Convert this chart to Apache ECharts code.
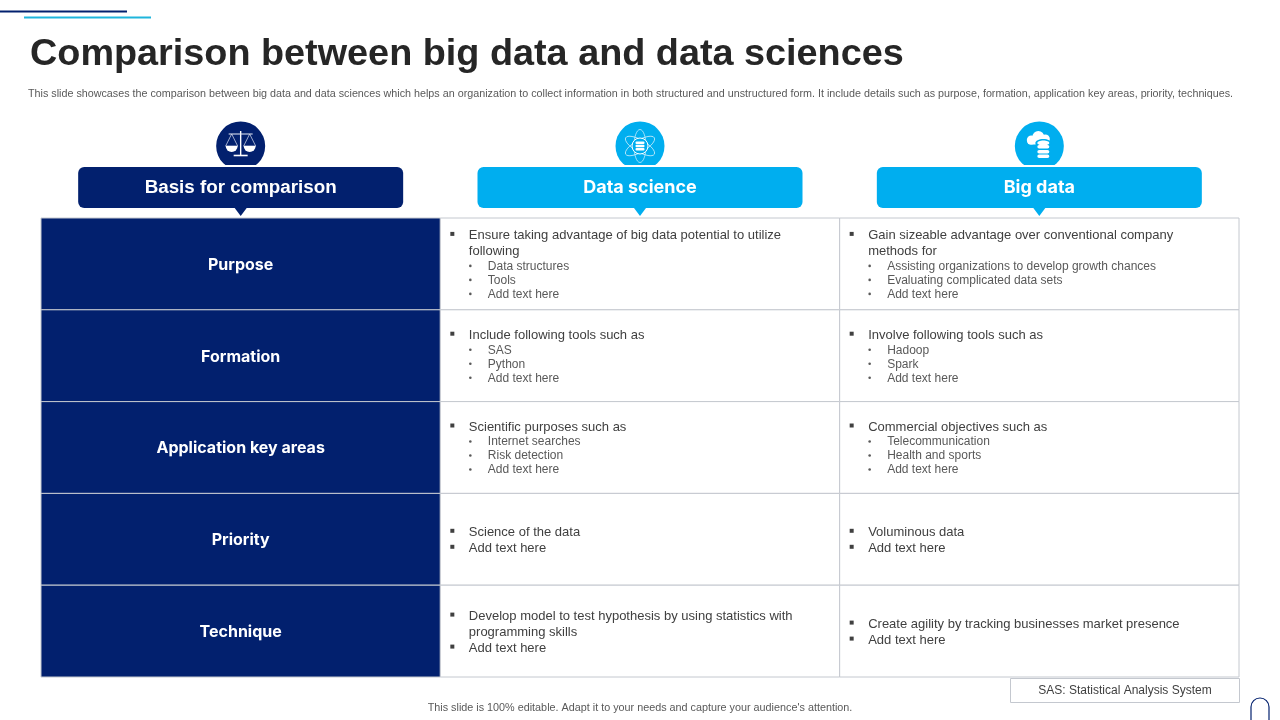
<!DOCTYPE html>
<html>
<head>
<meta charset="utf-8">
<title>Comparison between big data and data sciences</title>
<script src="https://cdn.jsdelivr.net/npm/echarts@6/dist/echarts.min.js"></script>
<style>
html, body { margin: 0; padding: 0; background: #fff; }
#main { width: 1280px; height: 720px; }
</style>
</head>
<body>
<div id="main"></div>
<script>
var titleText = 'Comparison between big data and data sciences';
var subText = 'This slide showcases the comparison between big data and data sciences which helps an organization to collect information in both structured and unstructured form. It include details such as purpose, formation, application key areas, priority, techniques.';
var footerText = "This slide is 100% editable. Adapt it to your needs and capture your audience's attention.";
var noteText = 'SAS: Statistical Analysis System';

var columns = ['Basis for comparison', 'Data science', 'Big data'];
var rows = ['Purpose', 'Formation', 'Application key areas', 'Priority', 'Technique'];

// m = main bullet, c = wrapped line of main bullet, s = sub bullet
var scienceLines = [
    [['m', 'Ensure taking advantage of big data potential to utilize'], ['c', 'following'], ['s', 'Data structures'], ['s', 'Tools'], ['s', 'Add text here']],
    [['m', 'Include following tools such as'], ['s', 'SAS'], ['s', 'Python'], ['s', 'Add text here']],
    [['m', 'Scientific purposes such as'], ['s', 'Internet searches'], ['s', 'Risk detection'], ['s', 'Add text here']],
    [['m', 'Science of the data'], ['m', 'Add text here']],
    [['m', 'Develop model to test hypothesis by using statistics with'], ['c', 'programming skills'], ['m', 'Add text here']]
];
var bigDataLines = [
    [['m', 'Gain sizeable advantage over conventional company'], ['c', 'methods for'], ['s', 'Assisting organizations to develop growth chances'], ['s', 'Evaluating complicated data sets'], ['s', 'Add text here']],
    [['m', 'Involve following tools such as'], ['s', 'Hadoop'], ['s', 'Spark'], ['s', 'Add text here']],
    [['m', 'Commercial objectives such as'], ['s', 'Telecommunication'], ['s', 'Health and sports'], ['s', 'Add text here']],
    [['m', 'Voluminous data'], ['m', 'Add text here']],
    [['m', 'Create agility by tracking businesses market presence'], ['m', 'Add text here']]
];

var NAVY = '#02206e';
var CYAN = '#00aeef';
var GREY = '#c4c8cf';
var cells = [];
var heads = [];
columns.forEach(function (c, i) {
    heads.push([i, 0]);
    rows.forEach(function (r, j) {
        cells.push([i, j]);
    });
});

function bulletLines(list, left, midY) {
    var out = [];
    var gaps = list.map(function (l, k) {
        if (k === 0) return 0;
        return l[0] === 's' ? (list[k - 1][0] === 's' ? 14 : 15) : 16;
    });
    var total = gaps.reduce(function (a, b) { return a + b; }, 0);
    var y = midY - total / 2 + 1;
    list.forEach(function (l, k) {
        y += gaps[k];
        var sub = l[0] === 's';
        var font = sub ? '12px "Liberation Sans"' : '13px "Liberation Sans"';
        var fill = sub ? '#595959' : '#404040';
        if (l[0] !== 'c') {
            out.push(sub
                ? {type: 'circle', shape: {cx: left + 30, cy: y - 0.5, r: 1.3}, style: {fill: '#595959'}}
                : {type: 'rect', shape: {x: left + 10, y: y - 3.5, width: 4, height: 4}, style: {fill: '#404040'}});
        }
        out.push({
            type: 'text',
            style: {text: l[1], x: left + (sub ? 47.5 : 28.5), y: y, font: font, fill: fill, textAlign: 'left', textVerticalAlign: 'middle'}
        });
    });
    return out;
}

function renderCell(params, api) {
    var col = api.value(0);
    var row = api.value(1);
    var c = api.coord([col, row]);
    var s = api.size([1, 1]);
    var x = c[0] - s[0] / 2;
    var y = c[1] - s[1] / 2;
    var children = [{
        type: 'rect',
        shape: {x: x, y: y, width: s[0], height: s[1]},
        style: {fill: col === 0 ? NAVY : '#fff', stroke: GREY, lineWidth: 1}
    }];
    if (col === 0) {
        children.push({
            type: 'text',
            style: {text: rows[row], x: c[0], y: c[1] + 1, font: 'bold 16px Inter', fill: '#fff', textAlign: 'center', textVerticalAlign: 'middle'}
        });
    } else {
        var lines = (col === 1 ? scienceLines : bigDataLines)[row];
        children = children.concat(bulletLines(lines, x, c[1]));
    }
    return {type: 'group', children: children};
}

function scalesIcon(cx, cy) {
    var line = {stroke: '#e8ecf6', lineWidth: 1};
    return [
        {type: 'line', shape: {x1: cx, y1: cy - 15, x2: cx, y2: cy + 9}, style: {stroke: '#fff', lineWidth: 1.4}},
        {type: 'line', shape: {x1: cx - 12, y1: cy - 12, x2: cx + 12, y2: cy - 12}, style: line},
        {type: 'line', shape: {x1: cx - 7, y1: cy + 9.5, x2: cx + 7, y2: cy + 9.5}, style: {stroke: '#fff', lineWidth: 1.6}},
        {type: 'polygon', shape: {points: [[cx - 9, cy - 12], [cx - 3, cy], [cx - 15, cy]]}, style: {fill: 'none', stroke: '#dfe4f2', lineWidth: 0.7}},
        {type: 'polygon', shape: {points: [[cx + 9, cy - 12], [cx + 3, cy], [cx + 15, cy]]}, style: {fill: 'none', stroke: '#dfe4f2', lineWidth: 0.7}},
        {type: 'sector', shape: {cx: cx - 9, cy: cy, r: 6, r0: 0, startAngle: 0, endAngle: Math.PI}, style: {fill: '#fff'}},
        {type: 'sector', shape: {cx: cx + 9, cy: cy, r: 6, r0: 0, startAngle: 0, endAngle: Math.PI}, style: {fill: '#fff'}}
    ];
}

function atomIcon(cx, cy) {
    var orbit = {fill: 'none', stroke: '#dff4fd', lineWidth: 0.7};
    var out = [];
    [Math.PI / 6, -Math.PI / 6, Math.PI / 2].forEach(function (rot) {
        out.push({type: 'ellipse', shape: {cx: 0, cy: 0, rx: 16.5, ry: 6}, x: cx, y: cy, rotation: rot, style: orbit});
    });
    out.push({type: 'circle', shape: {cx: cx, cy: cy, r: 8}, style: {fill: CYAN, stroke: '#fff', lineWidth: 1}});
    [-4.5, -1.2, 2.1].forEach(function (d) {
        out.push({type: 'rect', shape: {x: cx - 4.5, y: cy + d, width: 9, height: 2.4, r: 1}, style: {fill: '#fff'}});
    });
    return out;
}

function cloudIcon(cx, cy) {
    var out = [
        {type: 'circle', shape: {cx: cx - 8, cy: cy - 6, r: 4.5}, style: {fill: '#fff'}},
        {type: 'circle', shape: {cx: cx - 1, cy: cy - 9, r: 6}, style: {fill: '#fff'}},
        {type: 'circle', shape: {cx: cx + 6, cy: cy - 7, r: 4.5}, style: {fill: '#fff'}},
        {type: 'rect', shape: {x: cx - 12, y: cy - 8, width: 22, height: 6.5, r: 3}, style: {fill: '#fff'}},
        {type: 'ellipse', shape: {cx: cx + 4, cy: cy - 3, rx: 8, ry: 4}, style: {fill: CYAN}},
        {type: 'rect', shape: {x: cx - 4, y: cy - 3, width: 16, height: 14.5, r: 3}, style: {fill: CYAN}}
    ];
    [-1, 4, 8.5].forEach(function (d) {
        out.push({type: 'rect', shape: {x: cx - 2, y: cy + d, width: 12, height: 3.6, r: 1.8}, style: {fill: '#fff'}});
    });
    out.push({type: 'ellipse', shape: {cx: cx + 4, cy: cy - 3, rx: 6, ry: 2.4}, style: {fill: '#fff'}});
    return out;
}

var iconFns = [scalesIcon, atomIcon, cloudIcon];

function renderHead(params, api) {
    var col = api.value(0);
    var cx = api.coord([col, 0])[0];
    var top = params.coordSys.y;
    var color = col === 0 ? NAVY : CYAN;
    var pillTop = top - 51;
    var pillBottom = top - 10;
    var circleY = top - 72;
    var font = col === 0 ? 'bold 18.8px "Liberation Sans"' : 'bold 18px Inter';
    var children = [
        {type: 'circle', shape: {cx: cx, cy: circleY, r: 24.5}, style: {fill: color}},
        {type: 'rect', shape: {x: cx - 30, y: pillTop - 2, width: 60, height: 2}, style: {fill: '#fff'}},
        {type: 'rect', shape: {x: cx - 162.5, y: pillTop, width: 325, height: pillBottom - pillTop, r: 6}, style: {fill: color}},
        {type: 'polygon', shape: {points: [[cx - 6, pillBottom], [cx + 6, pillBottom], [cx, pillBottom + 8]]}, style: {fill: color}},
        {type: 'text', style: {text: columns[col], x: cx, y: (pillTop + pillBottom) / 2 + 0.5, font: font, fill: '#fff', textAlign: 'center', textVerticalAlign: 'middle'}}
    ];
    children = children.concat(iconFns[col](cx, circleY));
    return {type: 'group', children: children};
}

var myChart = echarts.init(document.getElementById('main'));
var option = {
    animation: false,
    backgroundColor: '#fff',
    title: [
        {text: titleText, left: 25, top: 31, textStyle: {fontFamily: 'Liberation Sans', fontSize: 37.8, fontWeight: 'bold', color: '#262626'}},
        {text: subText, left: 23, top: 84, textStyle: {fontFamily: 'Liberation Sans', fontSize: 10.75, fontWeight: 'normal', color: '#595959'}}
    ],
    grid: {left: 41, top: 218, width: 1198, height: 459},
    xAxis: {type: 'category', data: columns, show: false},
    yAxis: {type: 'category', data: rows, inverse: true, show: false},
    series: [
        {type: 'custom', name: 'cells', coordinateSystem: 'cartesian2d', data: cells, renderItem: renderCell, silent: true, clip: false},
        {type: 'custom', name: 'headers', coordinateSystem: 'cartesian2d', data: heads, renderItem: renderHead, silent: true, clip: false}
    ],
    graphic: [
        {type: 'line', shape: {x1: 0, y1: 11.5, x2: 127, y2: 11.5}, style: {stroke: '#02206e', lineWidth: 2}},
        {type: 'line', shape: {x1: 24, y1: 17.5, x2: 151, y2: 17.5}, style: {stroke: '#1fb5dc', lineWidth: 2}},
        {type: 'rect', shape: {x: 1010.5, y: 678.5, width: 229, height: 24}, style: {fill: '#fff', stroke: GREY, lineWidth: 1}},
        {type: 'text', style: {text: noteText, x: 1125, y: 691, font: '12px "Liberation Sans"', fill: '#404040', textAlign: 'center', textVerticalAlign: 'middle'}},
        {type: 'text', style: {text: footerText, x: 640, y: 708, font: '10.8px "Liberation Sans"', fill: '#595959', textAlign: 'center', textVerticalAlign: 'middle'}},
        {type: 'arc', shape: {cx: 1260, cy: 707, r: 9, startAngle: Math.PI, endAngle: 0}, style: {fill: 'none', stroke: '#02206e', lineWidth: 1.2}},
        {type: 'line', shape: {x1: 1251, y1: 707, x2: 1251, y2: 720}, style: {stroke: '#02206e', lineWidth: 1.2}},
        {type: 'line', shape: {x1: 1269, y1: 707, x2: 1269, y2: 720}, style: {stroke: '#02206e', lineWidth: 1.2}}
    ]
};
myChart.setOption(option);
</script>
</body>
</html>
